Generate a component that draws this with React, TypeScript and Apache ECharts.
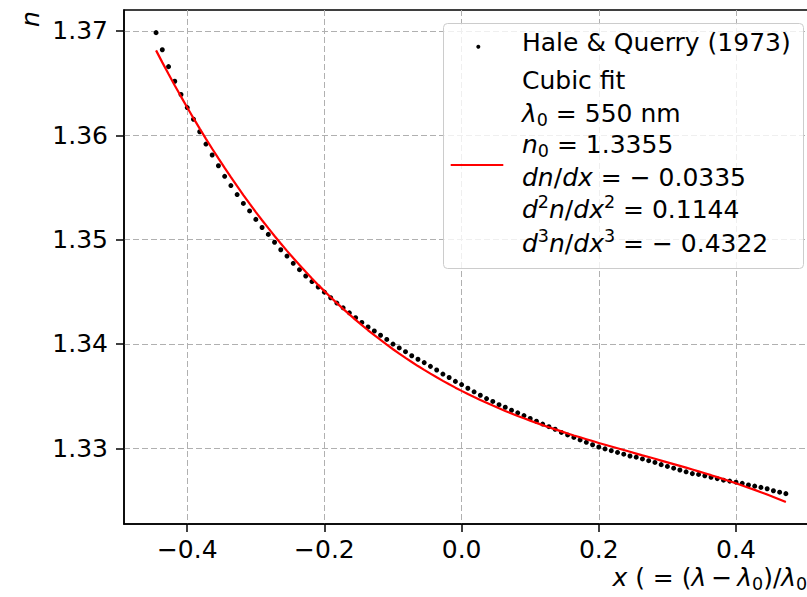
import React, { useEffect, useRef } from "react";
import * as echarts from "echarts";

const LAMBDA0_NM = 550;

const WAVELENGTHS_NM = [
  305, 310, 315, 320, 325, 330, 335, 340, 345, 350, 355, 360, 365, 370, 375, 380, 385, 390, 395, 400,
  405, 410, 415, 420, 425, 430, 435, 440, 445, 450, 455, 460, 465, 470, 475, 480, 485, 490, 495, 500,
  505, 510, 515, 520, 525, 530, 535, 540, 545, 550, 555, 560, 565, 570, 575, 580, 585, 590, 595, 600,
  605, 610, 615, 620, 625, 630, 635, 640, 645, 650, 655, 660, 665, 670, 675, 680, 685, 690, 695, 700,
  705, 710, 715, 720, 725, 730, 735, 740, 745, 750, 755, 760, 765, 770, 775, 780, 785, 790, 795, 800,
  805, 810,
];

const MEASURED_N = [
  1.36984, 1.3682, 1.36658, 1.36518, 1.36391, 1.36266, 1.36154, 1.36034, 1.35916, 1.35811,
  1.35708, 1.35607, 1.35518, 1.35432, 1.35347, 1.35275, 1.35194, 1.35116, 1.3505, 1.34975,
  1.34903, 1.34842, 1.34773, 1.34712, 1.34651, 1.34598, 1.34546, 1.34496, 1.34443, 1.34392,
  1.34346, 1.34298, 1.34251, 1.34206, 1.34162, 1.34124, 1.34083, 1.34043, 1.33999, 1.33962,
  1.33926, 1.33887, 1.33853, 1.33821, 1.33785, 1.3375, 1.33711, 1.33678, 1.33641, 1.3361,
  1.33575, 1.33541, 1.33508, 1.33476, 1.33449, 1.33418, 1.33393, 1.33364, 1.3334, 1.33313,
  1.33285, 1.33259, 1.33232, 1.33207, 1.33182, 1.33152, 1.33128, 1.33104, 1.3308, 1.33057,
  1.33034, 1.33012, 1.32994, 1.32977, 1.3296, 1.32943, 1.32926, 1.32915, 1.32898, 1.32881,
  1.32864, 1.32843, 1.32826, 1.32809, 1.32792, 1.32774, 1.32757, 1.32749, 1.32736, 1.32722,
  1.32709, 1.32694, 1.32685, 1.32675, 1.32664, 1.32648, 1.32637, 1.32625, 1.32612, 1.32593,
  1.32579, 1.32565,
];

const FIT_N = [
  1.36814, 1.36699, 1.36588, 1.36478, 1.36371, 1.36266, 1.36164, 1.36064, 1.35966, 1.35871,
  1.35778, 1.35687, 1.35598, 1.35512, 1.35427, 1.35345, 1.35264, 1.35186, 1.3511, 1.35035,
  1.34963, 1.34892, 1.34823, 1.34757, 1.34691, 1.34628, 1.34566, 1.34506, 1.34448, 1.34391,
  1.34336, 1.34283, 1.34231, 1.3418, 1.34131, 1.34084, 1.34038, 1.33993, 1.33949, 1.33907,
  1.33866, 1.33827, 1.33788, 1.33751, 1.33715, 1.3368, 1.33646, 1.33613, 1.33581, 1.3355,
  1.3352, 1.33491, 1.33463, 1.33436, 1.33409, 1.33383, 1.33358, 1.33334, 1.3331, 1.33287,
  1.33265, 1.33243, 1.33222, 1.33201, 1.33181, 1.33162, 1.33142, 1.33123, 1.33105, 1.33087,
  1.33069, 1.33051, 1.33034, 1.33017, 1.33, 1.32983, 1.32966, 1.32949, 1.32932, 1.32916,
  1.32899, 1.32882, 1.32865, 1.32848, 1.32831, 1.32814, 1.32796, 1.32778, 1.3276, 1.32742,
  1.32723, 1.32704, 1.32684, 1.32664, 1.32643, 1.32622, 1.32601, 1.32579, 1.32556, 1.32532,
  1.32508, 1.32484,
];

const X_TICKS = [-0.4, -0.2, 0, 0.2, 0.4];
const Y_TICKS = [1.33, 1.34, 1.35, 1.36, 1.37];

const DATA_LABEL = "Hale & Querry (1973)";
const FIT_LABEL_LINES = [
  "Cubic fit",
  "{i|λ}{sub|0} = 550 nm",
  "{i|n}{sub|0} = 1.3355",
  "{i|dn}/{i|dx} = \u2212 0.0335",
  "{i|d}{sup|2}{i|n}/{i|dx}{sup|2} = 0.1144",
  "{i|d}{sup|3}{i|n}/{i|dx}{sup|3} = \u2212 0.4322",
];
const X_AXIS_TITLE = "{i|x} ( = ({i|λ}\u2009\u2212\u2009{i|λ}{sub|0})/{i|λ}{sub|0})";
const Y_AXIS_TITLE = "n";

const FONT = "DejaVu Sans";
const FS = 25;
const SFS = 17.5;

const fmt = (v: number, d: number) => {
  const s = Math.abs(v) < 1e-9 ? (0).toFixed(d) : v.toFixed(d);
  return s.replace("-", "\u2212");
};

export default function App() {
  const ref = useRef<HTMLDivElement>(null);
  useEffect(() => {
    if (!ref.current) return;
    const chart = echarts.init(ref.current, undefined, { renderer: "svg" });
    const toX = (w: number) => (w - LAMBDA0_NM) / LAMBDA0_NM;
    const measured = WAVELENGTHS_NM.map((w, i) => [toX(w), MEASURED_N[i]]);
    const fit = WAVELENGTHS_NM.map((w, i) => [toX(w), FIT_N[i]]);

    const rich = {
      i: { fontStyle: "italic", fontFamily: FONT, fontSize: FS, fill: "#000" },
      sub: { fontFamily: FONT, fontSize: SFS, fill: "#000", padding: [7, 0, -7, 0] },
      sup: { fontFamily: FONT, fontSize: SFS, fill: "#000", padding: [-7.5, 0, 7.5, 0] },
    };
    const legendTop = 23.5;
    const baselines = [89.3, 121.7, 152.7, 185.7, 218.3, 251.7];
    const mid = 8.6;

    const graphics: any[] = [
      {
        type: "rect",
        shape: { x: 443.5, y: legendTop, width: 360, height: 245, r: 4 },
        style: { fill: "rgba(255,255,255,0.8)", stroke: "#cccccc", lineWidth: 1 },
        z: 100,
      },
      {
        type: "circle",
        shape: { cx: 478.3, cy: 46.7, r: 2 },
        style: { fill: "#000" },
        z: 101,
      },
      {
        type: "line",
        shape: { x1: 450.7, y1: 165, x2: 503.3, y2: 165 },
        style: { stroke: "#ff0000", lineWidth: 2.2 },
        z: 101,
      },
      {
        type: "text",
        x: 522,
        y: 51.5 - mid,
        style: { text: DATA_LABEL, fontFamily: FONT, fontSize: FS, fill: "#000", verticalAlign: "middle", align: "left" },
        z: 101,
      },
      ...FIT_LABEL_LINES.map((t, k) => ({
        type: "text",
        x: 522,
        y: baselines[k] - mid,
        style: {
          text: t,
          fontFamily: FONT,
          fontSize: FS,
          fill: "#000",
          verticalAlign: "middle",
          align: "left",
          rich,
        },
        z: 101,
      })),
      {
        type: "text",
        x: 817,
        y: 586 - mid,
        style: {
          text: X_AXIS_TITLE,
          fontFamily: FONT,
          fontSize: FS,
          fill: "#000",
          verticalAlign: "middle",
          align: "right",
          rich,
        },
      },
      {
        type: "text",
        x: 30,
        y: 19,
        rotation: Math.PI / 2,
        style: {
          text: Y_AXIS_TITLE,
          fontFamily: FONT,
          fontStyle: "italic",
          fontSize: FS,
          fill: "#000",
          verticalAlign: "middle",
          align: "center",
        },
      },
    ];

    const splitLine = { show: true, lineStyle: { type: [6, 3], color: "#b0b0b0", width: 1 } };
    const axisTickStyle = { color: "#000", width: 1.5 };

    chart.setOption({
      animation: false,
      backgroundColor: "#fff",
      grid: {
        left: 124,
        top: 10,
        width: 693,
        height: 514,
        show: true,
        borderColor: "#000",
        borderWidth: 1.5,
        backgroundColor: "transparent",
      },
      xAxis: {
        type: "value",
        min: -0.4922,
        max: 0.5181,
        axisLine: { show: true, onZero: false, lineStyle: { color: "#000", width: 1.5 } },
        axisTick: { show: true, length: 8, inside: false, customValues: X_TICKS, lineStyle: axisTickStyle },
        axisLabel: {
          customValues: X_TICKS,
          formatter: (v: number) => fmt(v, 1),
          fontFamily: FONT,
          fontSize: FS,
          color: "#000",
          margin: 13,
        },
        splitLine,
      },
      yAxis: {
        type: "value",
        min: 1.32274,
        max: 1.37201,
        axisLine: { show: true, onZero: false, lineStyle: { color: "#000", width: 1.5 } },
        axisTick: { show: true, length: 8, inside: false, customValues: Y_TICKS, lineStyle: axisTickStyle },
        axisLabel: {
          customValues: Y_TICKS,
          formatter: (v: number) => fmt(v, 2),
          fontFamily: FONT,
          fontSize: FS,
          color: "#000",
          margin: 16,
        },
        splitLine,
      },
      series: [
        {
          name: DATA_LABEL,
          type: "scatter",
          data: measured,
          symbol: "circle",
          symbolSize: 5,
          itemStyle: { color: "#000", opacity: 1 },
          z: 3,
        },
        {
          name: "Cubic fit",
          type: "line",
          data: fit,
          showSymbol: false,
          symbol: "none",
          lineStyle: { color: "#ff0000", width: 2.2 },
          z: 4,
        },
      ],
      graphic: graphics,
    });
    return () => chart.dispose();
  }, []);
  return (
    <div
      ref={ref}
      style={{ position: "fixed", left: 0, top: 0, width: 830, height: 597, background: "#fff" }}
    />
  );
}
